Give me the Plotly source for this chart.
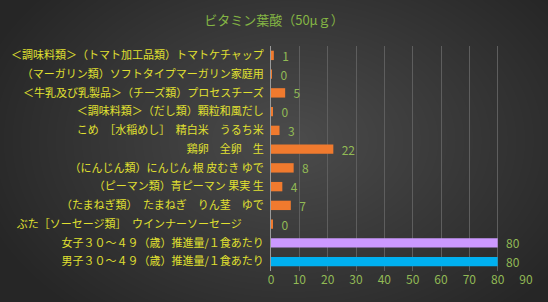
import plotly.graph_objects as go
import zlib, struct, base64, math

categories = [
    "＜調味料類＞（トマト加工品類）トマトケチャップ",
    "（マーガリン類）ソフトタイプマーガリン家庭用",
    "＜牛乳及び乳製品＞（チーズ類）プロセスチーズ",
    "＜調味料類＞（だし類）顆粒和風だし",
    "こめ　［水稲めし］　精白米　うるち米",
    "鶏卵　全卵　生",
    "（にんじん類）にんじん 根 皮むき ゆで",
    "（ピーマン類）青ピーマン 果実 生",
    "（たまねぎ類）　たまねぎ　りん茎　ゆで",
    "ぶた［ソーセージ類］　ウインナーソーセージ　　",
    "女子３０～４９（歳）推進量/１食あたり",
    "男子３０～４９（歳）推進量/１食あたり",
]
values = [1, 0.1, 5, 0.4, 3, 22, 8, 4, 7, 0.4, 80, 80]
bar_colors = ["#F07A2E"] * 10 + ["#CC99FF", "#00B0F0"]
x_ticks = [0, 10, 20, 30, 40, 50, 60, 70, 80, 90]
title = "ビタミン葉酸（50μｇ）"

W, H = 548, 302
# background radial gradient png
def make_png(w, h):
    rows = []
    cx, cy = 290, 140
    for j in range(h):
        row = bytearray([0])
        for i in range(w):
            dx = (i - cx) / 330.0
            dy = (j - cy) / 230.0
            d = min(1.0, math.sqrt(dx * dx + dy * dy))
            v = int(76 - (76 - 38) * d)
            row.append(v)
        rows.append(bytes(row))
    raw = b"".join(rows)
    def chunk(t, d):
        c = struct.pack(">I", len(d)) + t + d
        return c + struct.pack(">I", zlib.crc32(t + d) & 0xffffffff)
    png = b"\x89PNG\r\n\x1a\n" + chunk(b"IHDR", struct.pack(">IIBBBBB", w, h, 8, 0, 0, 0, 0))
    png += chunk(b"IDAT", zlib.compress(raw, 9)) + chunk(b"IEND", b"")
    return "data:image/png;base64," + base64.b64encode(png).decode()

L, R, T, B = 271, 22, 46, 31
pw, ph = W - L - R, H - T - B

font = "Noto Sans CJK JP"
fig = go.Figure()
fig.add_trace(go.Bar(
    y=categories, x=values, orientation="h",
    marker=dict(color=bar_colors, line=dict(width=0)),
    text=[f"  {v:.0f}" for v in values], textposition="outside",
    textfont=dict(color="#92BA55", size=12, family=font),
    cliponaxis=False, width=0.5,
))
fig.update_layout(
    width=W, height=H,
    margin=dict(l=L, r=R, t=T, b=B, autoexpand=False),
    paper_bgcolor="#363636", plot_bgcolor="rgba(0,0,0,0)",
    showlegend=False,
    uniformtext=dict(minsize=12, mode="show"),
    title=dict(text=title, x=0.5, xref="container", xanchor="center",
               y=1 - 20 / H, yanchor="middle",
               font=dict(color="#84B544", size=13, family=font)),
    xaxis=dict(range=[0, 90], tickvals=x_ticks, showgrid=True, gridcolor="#5E5E5E",
               gridwidth=1, zeroline=False, showline=False, ticks="",
               tickfont=dict(color="#92BA55", size=12, family=font), fixedrange=True),
    yaxis=dict(autorange="reversed", showline=True, linecolor="#9A9A9A", linewidth=1,
               ticks="", tickfont=dict(color="#E0E030", size=11, family=font),
               ticklabelstandoff=4, automargin=False),
    bargap=0.5,
    images=[dict(source=make_png(W, H), xref="paper", yref="paper",
                 x=-L / pw, y=1 + T / ph, sizex=W / pw, sizey=H / ph,
                 xanchor="left", yanchor="top", sizing="stretch", layer="below")],
)
fig.write_html("out.html")
